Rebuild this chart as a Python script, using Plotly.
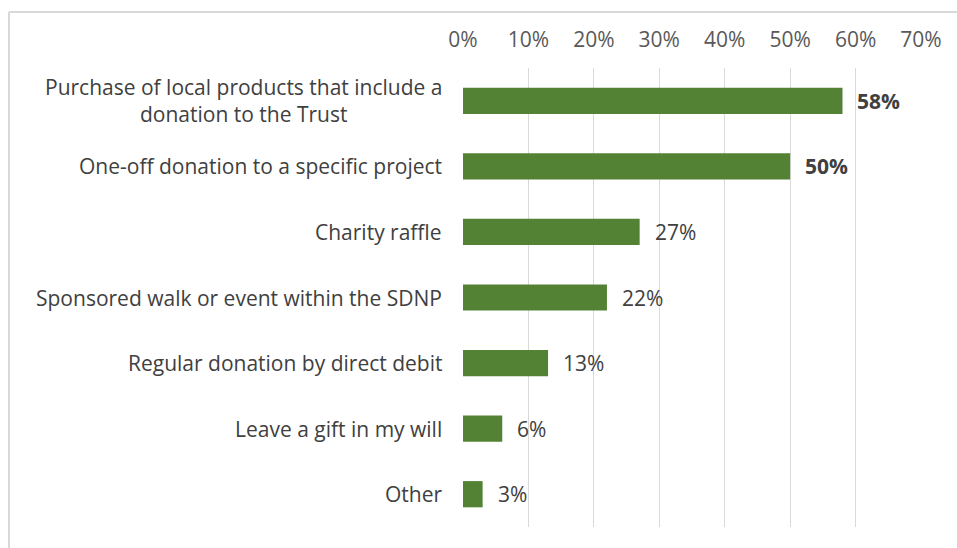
import plotly.graph_objects as go

# Ways respondents would support the Trust (share of respondents)
categories = [
    "Purchase of local products that include a<br>donation to the Trust",
    "One-off donation to a specific project",
    "Charity raffle",
    "Sponsored walk or event within the SDNP",
    "Regular donation by direct debit",
    "Leave a gift in my will",
    "Other",
]
shares = [0.58, 0.50, 0.27, 0.22, 0.13, 0.06, 0.03]
tick_values = [0, 0.1, 0.2, 0.3, 0.4, 0.5, 0.6, 0.7]
tick_labels = ["0%", "10%", "20%", "30%", "40%", "50%", "60%", "70%"]

# Top two answers get bold value labels
bold_labels = [True, True, False, False, False, False, False]

W, H = 957, 548
ML, MR, MT, MB = 463, 36, 68, 21
FONT = "'Open Sans', Lato, sans-serif"
FS = 21
BAR = "#548235"
TEXT = "#404040"
GRID = "#d9d9d9"

fig = go.Figure(
    go.Bar(
        x=shares,
        y=categories,
        orientation="h",
        marker=dict(color=BAR, line=dict(width=0)),
        hoverinfo="skip",
    )
)

annotations = []
# Category labels, right-aligned beside the axis with centred line wrapping
for cat in categories:
    annotations.append(dict(
        x=0, xref="paper", y=cat, yref="y",
        text=cat, showarrow=False, xanchor="right", yanchor="middle",
        align="center", xshift=-19,
        font=dict(family=FONT, size=FS, color=TEXT),
    ))
# Value labels at the end of each bar
for cat, v, b in zip(categories, shares, bold_labels):
    label = f"{round(v * 100)}%"
    annotations.append(dict(
        x=v, xref="x", y=cat, yref="y",
        text=f"<b>{label}</b>" if b else label,
        showarrow=False, xanchor="left", yanchor="middle", xshift=13,
        font=dict(family=FONT, size=FS, color=TEXT),
    ))

pw = W - ML - MR
ph = H - MT - MB
def px_to_paper_x(px):
    return (px - ML) / pw
def px_to_paper_y(py):
    return (H - MB - py) / ph

fig.update_layout(
    width=W, height=H,
    margin=dict(l=ML, r=MR, t=MT, b=MB, pad=0),
    paper_bgcolor="white", plot_bgcolor="white",
    bargap=0.6,
    showlegend=False,
    xaxis=dict(
        range=[0, 0.7], side="top",
        tickvals=tick_values, ticktext=tick_labels,
        showgrid=True, gridcolor=GRID, gridwidth=1,
        zeroline=False, showline=False, ticks="",
        tickfont=dict(family=FONT, size=FS, color="#595959"),
        ticklabelstandoff=16,
        fixedrange=True,
    ),
    yaxis=dict(
        autorange="reversed", showticklabels=False,
        showgrid=False, zeroline=False, showline=False, ticks="",
        fixedrange=True,
    ),
    annotations=annotations,
    shapes=[
        # chart frame: top and left edges
        dict(type="line", xref="paper", yref="paper",
             x0=px_to_paper_x(9), x1=px_to_paper_x(W + 5),
             y0=px_to_paper_y(12), y1=px_to_paper_y(12),
             line=dict(color="#d9d9d9", width=2)),
        dict(type="line", xref="paper", yref="paper",
             x0=px_to_paper_x(9), x1=px_to_paper_x(9),
             y0=px_to_paper_y(12), y1=px_to_paper_y(H + 5),
             line=dict(color="#d9d9d9", width=2)),
    ],
)

fig.write_html("out.html", config={"displayModeBar": False})
